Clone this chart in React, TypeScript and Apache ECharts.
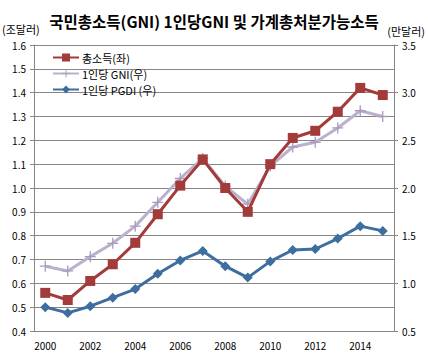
import React, { useEffect, useRef } from "react";
import * as echarts from "echarts";

const years = ["2000","2001","2002","2003","2004","2005","2006","2007","2008","2009","2010","2011","2012","2013","2014","2015"];
const totalIncome = [0.56,0.53,0.61,0.68,0.77,0.89,1.01,1.12,1.00,0.90,1.10,1.21,1.24,1.32,1.42,1.39];
const gniPerCapita = [1.18,1.13,1.28,1.42,1.60,1.85,2.10,2.31,2.02,1.83,2.23,2.43,2.48,2.63,2.81,2.75];
const pgdiPerCapita = [0.75,0.69,0.76,0.85,0.94,1.10,1.24,1.34,1.18,1.06,1.23,1.35,1.36,1.47,1.60,1.55];
const seriesNames = ["총소득(좌)", "1인당 GNI(우)", "1인당 PGDI (우)"];

const FONT = "'Noto Sans CJK KR', 'Noto Sans', sans-serif";

export default function App() {
  const ref = useRef<HTMLDivElement>(null);
  useEffect(() => {
    const chart = echarts.init(ref.current!, null, { renderer: "svg" });
    chart.setOption({
      animation: false,
      backgroundColor: "#ffffff",
      textStyle: { fontFamily: FONT },
      title: {
        text: "국민총소득(GNI) 1인당GNI 및 가계총처분가능소득",
        left: "center",
        top: 8,
        textStyle: { fontSize: 15.5, fontWeight: "bold", color: "#000", fontFamily: FONT },
      },
      graphic: [
        { type: "text", left: 2, top: 23, style: { text: "(조달러)", fontSize: 11, fill: "#000", fontFamily: FONT } },
        { type: "text", right: 3, top: 25, style: { text: "(만달러)", fontSize: 11, fill: "#000", fontFamily: FONT } },
      ],
      legend: {
        orient: "vertical",
        left: 47,
        top: 46,
        itemWidth: 26,
        itemHeight: 10,
        itemGap: 3,
        textStyle: { fontSize: 11, lineHeight: 13, color: "#000", fontFamily: FONT, padding: [0, 0, 0, -2] },
        data: seriesNames,
      },
      grid: { left: 34, right: 34, top: 45, height: 286 },
      xAxis: {
        type: "category",
        data: years,
        boundaryGap: true,
        axisLine: { lineStyle: { color: "#868686" } },
        axisTick: { inside: true, length: 4, interval: 0, lineStyle: { color: "#868686" } },
        axisLabel: { interval: 1, fontSize: 10, color: "#000", margin: 9 },
      },
      yAxis: [
        {
          type: "value",
          min: 0.4,
          max: 1.6,
          interval: 0.1,
          axisLine: { show: true, lineStyle: { color: "#868686" } },
          axisTick: { show: true, length: 4, lineStyle: { color: "#868686" } },
          axisLabel: { fontSize: 10, color: "#000", margin: 8, formatter: (v: number) => v.toFixed(1) },
          splitLine: { lineStyle: { color: "#868686", width: 1 } },
        },
        {
          type: "value",
          min: 0.5,
          max: 3.5,
          interval: 0.5,
          position: "right",
          axisLine: { show: true, lineStyle: { color: "#868686" } },
          axisTick: { show: true, length: 4, lineStyle: { color: "#868686" } },
          axisLabel: { fontSize: 10, color: "#000", margin: 8, formatter: (v: number) => v.toFixed(1) },
          splitLine: { show: false },
        },
      ],
      series: [
        {
          name: seriesNames[1],
          type: "line",
          yAxisIndex: 1,
          data: gniPerCapita,
          symbol: "path://M4.4,0H5.6V4.4H10V5.6H5.6V10H4.4V5.6H0V4.4H4.4Z",
          symbolSize: 11,
          lineStyle: { color: "#BBB1CD", width: 3 },
          itemStyle: { color: "#A99CBF" },
          z: 2,
        },
        {
          name: seriesNames[0],
          type: "line",
          yAxisIndex: 0,
          data: totalIncome,
          symbol: "rect",
          symbolSize: 10,
          lineStyle: { color: "#A23B3A", width: 3 },
          itemStyle: { color: "#A23B3A" },
          z: 3,
        },
        {
          name: seriesNames[2],
          type: "line",
          yAxisIndex: 1,
          data: pgdiPerCapita,
          symbol: "diamond",
          symbolSize: 10,
          lineStyle: { color: "#3D6E9F", width: 3 },
          itemStyle: { color: "#3D6E9F" },
          z: 3,
        },
      ],
    });
    return () => chart.dispose();
  }, []);
  return <div ref={ref} style={{ position: "absolute", left: 0, top: 0, width: 428, height: 356 }} />;
}
